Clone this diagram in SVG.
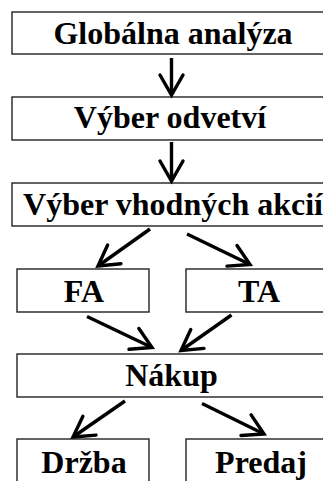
<svg xmlns="http://www.w3.org/2000/svg" width="323" height="481" viewBox="0 0 323 481">
  <style>
    .box { fill: #fff; stroke: #222; stroke-width: 1.4; }
    .lbl { font-family: 'Liberation Serif', 'Times New Roman', Times, serif; font-weight: 700; font-size: 32px; fill: #000; text-anchor: middle; }
    .conn { stroke: #000; stroke-width: 3.4; fill: none; marker-end: url(#ah); }
  </style>
  <defs>
    <marker id="ah" markerUnits="userSpaceOnUse" markerWidth="30" markerHeight="30" viewBox="-24 -15 30 30" refX="0" refY="0" orient="auto">
      <path d="M-20,-11.5 L0,0 L-20,11.5" fill="none" stroke="#000" stroke-width="3.4" stroke-linecap="round" stroke-linejoin="miter"/>
    </marker>
  </defs>
  <rect width="323" height="481" fill="#fff"/>

  <g id="n-globalna">
    <rect class="box" x="12" y="12" width="330" height="42"/>
    <text class="lbl" x="173" y="44">Globálna analýza</text>
  </g>
  <g id="n-odvetvi">
    <rect class="box" x="12" y="97" width="330" height="43"/>
    <text class="lbl" x="170" y="128">Výber odvetví</text>
  </g>
  <g id="n-akcie">
    <rect class="box" x="12" y="183" width="330" height="43"/>
    <text class="lbl" x="173" y="215">Výber vhodných akcií</text>
  </g>
  <g id="n-fa">
    <rect class="box" x="17" y="269" width="132" height="43"/>
    <text class="lbl" x="84" y="301.5">FA</text>
  </g>
  <g id="n-ta">
    <rect class="box" x="186" y="269" width="150" height="43"/>
    <text class="lbl" x="259" y="301.5">TA</text>
  </g>
  <g id="n-nakup">
    <rect class="box" x="17" y="354" width="320" height="43"/>
    <text class="lbl" x="171.5" y="385.5">Nákup</text>
  </g>
  <g id="n-drzba">
    <rect class="box" x="17" y="439" width="132" height="50"/>
    <text class="lbl" x="84" y="473">Držba</text>
  </g>
  <g id="n-predaj">
    <rect class="box" x="186" y="439" width="150" height="50"/>
    <text class="lbl" x="261" y="473">Predaj</text>
  </g>

  <g id="connectors">
    <line class="conn" x1="171.5" y1="58" x2="171.5" y2="95"/>
    <line class="conn" x1="171.5" y1="142" x2="171.5" y2="181"/>
    <line class="conn" x1="150" y1="229" x2="98" y2="266"/>
    <line class="conn" x1="187" y1="234" x2="250" y2="264.5"/>
    <line class="conn" x1="87" y1="316.5" x2="152" y2="347.5"/>
    <line class="conn" x1="231.5" y1="315" x2="181" y2="350.5"/>
    <line class="conn" x1="125" y1="401" x2="73" y2="437"/>
    <line class="conn" x1="202" y1="403.5" x2="264" y2="434"/>
  </g>
</svg>
